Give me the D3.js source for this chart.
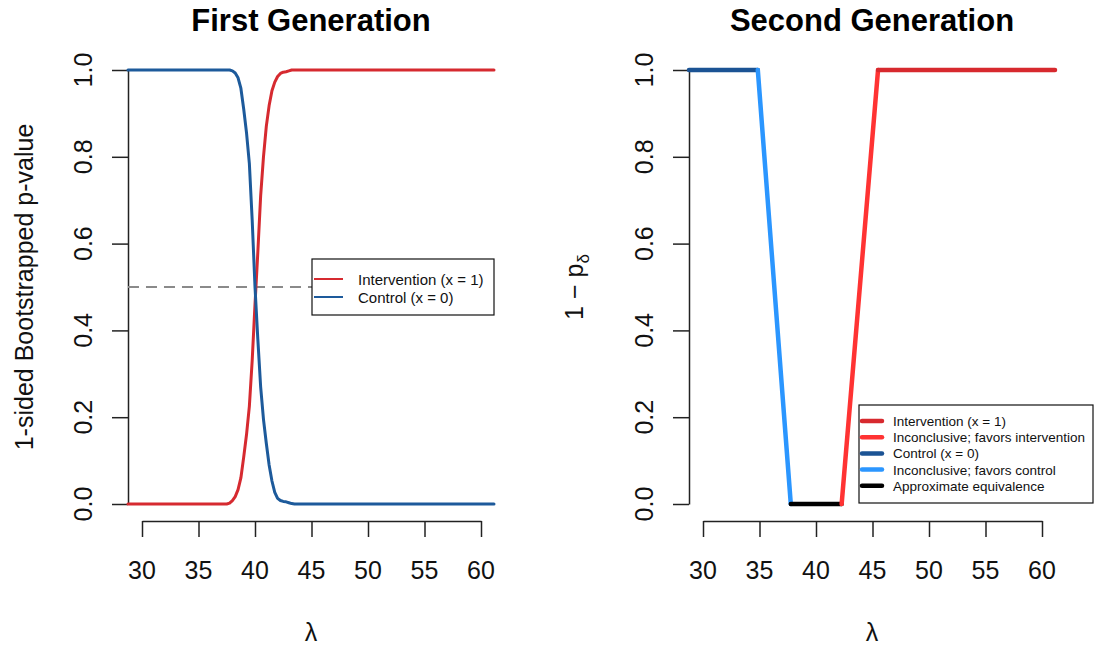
<!DOCTYPE html>
<html>
<head>
<meta charset="utf-8">
<script src="https://cdn.jsdelivr.net/npm/d3@7"></script>
<style>
  html, body { margin: 0; padding: 0; background: #fff; }
  svg { display: block; font-family: "Liberation Sans", Arial, sans-serif; }
</style>
</head>
<body>
<svg id="chart" width="1094" height="647"></svg>
<script>
// ---- First generation: bootstrapped one-sided p-values along lambda ----
const lambdaGrid = [28.76, 37.5, 37.75, 38.0, 38.25, 38.5, 38.75, 39.0, 39.25, 39.5, 39.75,
                    40.0, 40.25, 40.5, 40.75, 41.0, 41.25, 41.5, 41.75, 42.0, 42.25, 42.5,
                    42.75, 43.0, 43.25, 43.5, 61.15];
const interventionP = [0, 0, 0.002, 0.008, 0.017, 0.033, 0.060, 0.108, 0.160, 0.225, 0.33,
                       0.46, 0.58, 0.71, 0.80, 0.87, 0.918, 0.952, 0.972, 0.985, 0.992, 0.995,
                       0.996, 0.998, 1.0, 1.0, 1.0];
const controlP = [1, 1, 1.0, 0.998, 0.993, 0.982, 0.958, 0.910, 0.855, 0.785, 0.655,
                  0.50, 0.38, 0.27, 0.195, 0.14, 0.09, 0.053, 0.027, 0.013, 0.008, 0.006,
                  0.005, 0.003, 0.001, 0, 0];
const referenceP = 0.5;

// ---- Second generation: 1 - p_delta, with a verdict for each lambda interval ----
const lambdaBreaks = [28.76, 34.85, 37.77, 42.27, 45.49, 61.15];
const oneMinusP = [1, 1, 0, 0, 1, 1];
const intervalVerdict = ["Control (x = 0)", "Inconclusive; favors control",
                         "Approximate equivalence", "Inconclusive; favors intervention",
                         "Intervention (x = 1)"];

const xTicks = [30, 35, 40, 45, 50, 55, 60];
const yTicks = [0, 0.2, 0.4, 0.6, 0.8, 1.0];

const verdictOrder = ["Intervention (x = 1)", "Inconclusive; favors intervention",
                      "Control (x = 0)", "Inconclusive; favors control",
                      "Approximate equivalence"];
const verdictColor = d3.scaleOrdinal()
  .domain(verdictOrder)
  .range(["#d7292e", "#ff3333", "#1b5394", "#2b96ff", "#000000"]);

const RED = "#d62a30", BLUE = "#1d5a9b";

const svg = d3.select("#chart");
const y = d3.scaleLinear().domain([0, 1]).range([504, 70]);

function panel(offsetX, title) {
  const g = svg.append("g").attr("transform", `translate(${offsetX},0)`);
  const x = d3.scaleLinear().domain([30, 60]).range([142, 481]);

  // x axis
  const xa = g.append("g").attr("transform", "translate(0,521)")
    .call(d3.axisBottom(x).tickValues(xTicks).tickSize(16).tickSizeOuter(0).tickFormat(""));
  xa.selectAll("path, line").attr("stroke", "#222").attr("stroke-width", 1.5);
  g.selectAll(".xlab").data(xTicks).enter().append("text")
    .attr("x", d => x(d)).attr("y", 579)
    .attr("text-anchor", "middle").attr("font-size", 25).attr("fill", "#111")
    .text(d => d);

  // y axis
  const ya = g.append("g").attr("transform", "translate(128,0)")
    .call(d3.axisLeft(y).tickValues(yTicks).tickSize(16).tickSizeOuter(0).tickFormat(""));
  ya.selectAll("path, line").attr("stroke", "#222").attr("stroke-width", 1.5);
  g.selectAll(".ylab").data(yTicks).enter().append("text")
    .attr("transform", d => `translate(92,${y(d)}) rotate(-90)`)
    .attr("text-anchor", "middle").attr("font-size", 25).attr("fill", "#111")
    .text(d3.format(".1f"));

  // titles
  g.append("text").attr("x", 311).attr("y", 31).attr("text-anchor", "middle")
    .attr("font-size", 31).attr("font-weight", "bold").attr("fill", "#000").text(title);
  g.append("text").attr("x", 311).attr("y", 641).attr("text-anchor", "middle")
    .attr("font-size", 25).attr("fill", "#111").text("λ");
  return { g, x };
}

// ---------- left panel ----------
{
  const { g, x } = panel(0, "First Generation");
  g.append("text").attr("transform", "translate(33,287) rotate(-90)")
    .attr("text-anchor", "middle").attr("font-size", 25).attr("fill", "#111")
    .text("1-sided Bootstrapped p-value");

  g.append("line")
    .attr("x1", x(lambdaGrid[0])).attr("x2", x(lambdaGrid[lambdaGrid.length - 1]))
    .attr("y1", y(referenceP)).attr("y2", y(referenceP))
    .attr("stroke", "#8a8a8a").attr("stroke-width", 2).attr("stroke-dasharray", "11,7");

  const line = d3.line().x(d => x(d[0])).y(d => y(d[1]));
  const series = [
    { name: "Intervention (x = 1)", color: RED, values: interventionP },
    { name: "Control (x = 0)", color: BLUE, values: controlP }
  ];
  series.forEach(s => {
    g.append("path")
      .attr("d", line(lambdaGrid.map((l, i) => [l, s.values[i]])))
      .attr("fill", "none").attr("stroke", s.color).attr("stroke-width", 3)
      .attr("stroke-linejoin", "round").attr("stroke-linecap", "round");
  });

  // legend
  const lg = g.append("g").attr("transform", "translate(312,259)");
  lg.append("rect").attr("width", 182).attr("height", 56)
    .attr("fill", "#fff").attr("stroke", "#111").attr("stroke-width", 1.2);
  series.forEach((s, i) => {
    const yy = 20 + i * 18;
    lg.append("line").attr("x1", 2).attr("x2", 31).attr("y1", yy).attr("y2", yy)
      .attr("stroke", s.color).attr("stroke-width", 2);
    lg.append("text").attr("x", 46).attr("y", yy + 5.5)
      .attr("font-size", 15).attr("fill", "#111").text(s.name);
  });
}

// ---------- right panel ----------
{
  const { g, x } = panel(561, "Second Generation");
  const t = g.append("text").attr("transform", "translate(22,287) rotate(-90)")
    .attr("text-anchor", "middle").attr("font-size", 25).attr("fill", "#111");
  t.append("tspan").text("1 \u2212 p");
  t.append("tspan").attr("font-size", 17).attr("dy", 6).text("δ");

  const line = d3.line().x(d => x(d[0])).y(d => y(d[1]));
  intervalVerdict.forEach((v, i) => {
    g.append("path")
      .attr("d", line([[lambdaBreaks[i], oneMinusP[i]], [lambdaBreaks[i + 1], oneMinusP[i + 1]]]))
      .attr("fill", "none").attr("stroke", verdictColor(v)).attr("stroke-width", 4.5)
      .attr("stroke-linecap", "round");
  });

  // legend
  const lg = g.append("g").attr("transform", "translate(298,405)");
  lg.append("rect").attr("width", 234).attr("height", 98)
    .attr("fill", "#fff").attr("stroke", "#111").attr("stroke-width", 1.2);
  verdictOrder.forEach((v, i) => {
    const yy = 16 + i * 16.2;
    lg.append("line").attr("x1", 3).attr("x2", 23).attr("y1", yy).attr("y2", yy)
      .attr("stroke", verdictColor(v)).attr("stroke-width", 4.5).attr("stroke-linecap", "round");
    lg.append("text").attr("x", 34).attr("y", yy + 5)
      .attr("font-size", 13.5).attr("fill", "#111").text(v);
  });
}
</script>
</body>
</html>
